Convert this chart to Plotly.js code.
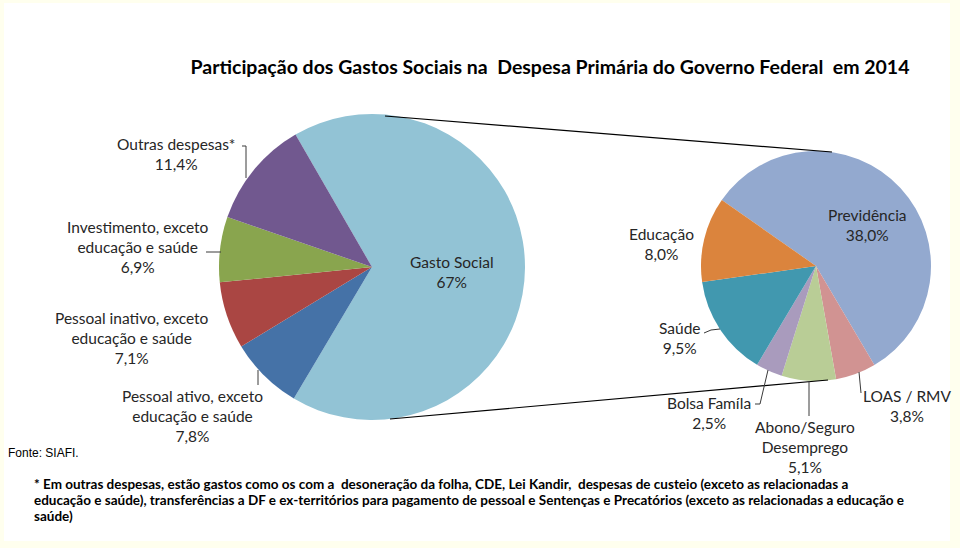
<!DOCTYPE html>
<html>
<head>
<meta charset="utf-8">
<script src="https://cdn.plot.ly/plotly-3.0.1.min.js"></script>
<style>
  html, body { margin: 0; padding: 0; background: #ffffff; }
  #chart { width: 960px; height: 548px; }
</style>
</head>
<body>
<div id="chart"></div>
<script>
// ---- Data ----
const mainLabels = ["Gasto Social", "Pessoal ativo, exceto educação e saúde", "Pessoal inativo, exceto educação e saúde", "Investimento, exceto educação e saúde", "Outras despesas*"];
const mainValues = [67, 7.8, 7.1, 6.9, 11.4];
const mainDecimals = [0, 1, 1, 1, 1];
const mainNameLines = [["Gasto Social"], ["Pessoal ativo, exceto", "educação e saúde"], ["Pessoal inativo, exceto", "educação e saúde"], ["Investimento, exceto", "educação e saúde"], ["Outras despesas*"]];
const mainColors = ["#92C3D5", "#4572A7", "#AA4643", "#89A54E", "#71588F"];

const socialLabels = ["Previdência", "LOAS / RMV", "Abono/Seguro Desemprego", "Bolsa Famíla", "Saúde", "Educação"];
const socialValues = [38.0, 3.8, 5.1, 2.5, 9.5, 8.0];
const socialDecimals = [1, 1, 1, 1, 1, 1];
const socialNameLines = [["Previdência"], ["LOAS / RMV"], ["Abono/Seguro", "Desemprego"], ["Bolsa Famíla"], ["Saúde"], ["Educação"]];
const socialColors = ["#93A9CF", "#D19392", "#B9CD96", "#A99BBD", "#4198AF", "#DB843D"];

const titleText = "Participação dos Gastos Sociais na&nbsp; Despesa Primária do Governo Federal&nbsp; em 2014";
const sourceText = "Fonte: SIAFI.";
const noteLines = [
  "* Em outras despesas, estão gastos como os com a&nbsp; desoneração da folha, CDE, Lei Kandir,&nbsp; despesas de custeio (exceto as relacionadas a",
  "educação e saúde), transferências a DF e ex-territórios para pagamento de pessoal e Sentenças e Precatórios (exceto as relacionadas a educação e",
  "saúde)"
];

// ---- Layout helpers ----
const W = 960, H = 548;
const px = x => x / W;
const py = y => 1 - y / H;
const fmt = (v, d) => v.toFixed(d).replace(".", ",") + "%";

// label placement: centre of each label block (pixels)
const mainLabelPos = [[452, 272], [192, 416], [132, 338], [138, 247], [176, 153.5]];
const socialLabelPos = [[867, 225], [907, 405.5], [805, 447], [709, 413], [680, 337.5], [661, 244]];

const labelFont = {family: "Lato, 'Open Sans', sans-serif", size: 15.5, color: "#262626"};

const annotations = [];
function addLabel(lines, pos) {
  annotations.push({
    text: lines.join("<br>"), xref: "paper", yref: "paper", x: px(pos[0]), y: py(pos[1]),
    xanchor: "center", yanchor: "middle", align: "center", showarrow: false, font: labelFont
  });
}
mainValues.forEach((v, i) => addLabel(mainNameLines[i].concat([fmt(v, mainDecimals[i])]), mainLabelPos[i]));
socialValues.forEach((v, i) => addLabel(socialNameLines[i].concat([fmt(v, socialDecimals[i])]), socialLabelPos[i]));

annotations.push({
  text: sourceText, xref: "paper", yref: "paper", x: px(6), y: py(453),
  xanchor: "left", yanchor: "middle", showarrow: false,
  font: {family: "'Liberation Sans', Arial, sans-serif", size: 12, color: "#000"}
});
const noteY = [484, 500, 516];
noteLines.forEach((t, i) => annotations.push({
  text: t, xref: "paper", yref: "paper", x: px(32), y: py(noteY[i]),
  xanchor: "left", yanchor: "middle", align: "left", showarrow: false,
  font: {family: "Lato, sans-serif", size: 13.5, color: "#000", weight: 700}
}));

function seg(pts, color, width) {
  let d = "M" + pts.map(p => px(p[0]) + "," + py(p[1])).join(" L");
  return {type: "path", xref: "paper", yref: "paper", path: d, line: {color: color, width: width}, layer: "above"};
}
const leader = "#3a3a3a";
const shapes = [
  {type: "rect", xref: "paper", yref: "paper", x0: px(4), x1: px(950), y0: py(541), y1: py(3),
   fillcolor: "#ffffff", line: {width: 0}, layer: "below"},
  // connector lines between the pies
  seg([[385, 116], [832, 152]], "#000", 1.2),
  seg([[390, 419], [828, 380]], "#000", 1.2),
  // leader lines (left pie)
  seg([[242, 146], [246, 146], [246, 178]], leader, 1),
  seg([[206, 252], [221, 252]], leader, 1),
  seg([[258, 370], [258, 385]], leader, 1),
  // leader lines (right pie)
  seg([[704, 333], [711, 330], [720, 329]], leader, 1),
  seg([[755, 404], [760, 404], [768, 370]], leader, 1),
  seg([[809, 381], [809, 416]], leader, 1),
  seg([[859, 372], [861, 393]], leader, 1)
];

// pie geometry (pixel centre + radius -> paper domains)
function dom(cx, cy, r) {
  return {x: [(cx - r) / W, (cx + r) / W], y: [(H - cy - r) / H, (H - cy + r) / H]};
}

const traces = [
  {type: "pie", labels: mainLabels, values: mainValues, sort: false, direction: "clockwise",
   rotation: -30, marker: {colors: mainColors, line: {width: 0}}, textinfo: "none",
   hoverinfo: "label+percent", domain: dom(372, 267, 153), showlegend: false},
  {type: "pie", labels: socialLabels, values: socialValues, sort: false, direction: "clockwise",
   rotation: -55, marker: {colors: socialColors, line: {width: 0}}, textinfo: "none",
   hoverinfo: "label+value", domain: dom(816, 266, 115), showlegend: false}
];

const layout = {
  width: W, height: H,
  margin: {l: 0, r: 0, t: 0, b: 0},
  paper_bgcolor: "#FFFFEE",
  title: {
    text: titleText, x: px(550), xanchor: "center", y: py(67), yanchor: "middle", xref: "paper", yref: "paper",
    font: {family: "Lato, sans-serif", size: 19.5, color: "#000", weight: 700}
  },
  showlegend: false,
  annotations: annotations,
  shapes: shapes
};

Plotly.newPlot("chart", traces, layout, {displayModeBar: false, staticPlot: true});
</script>
</body>
</html>
